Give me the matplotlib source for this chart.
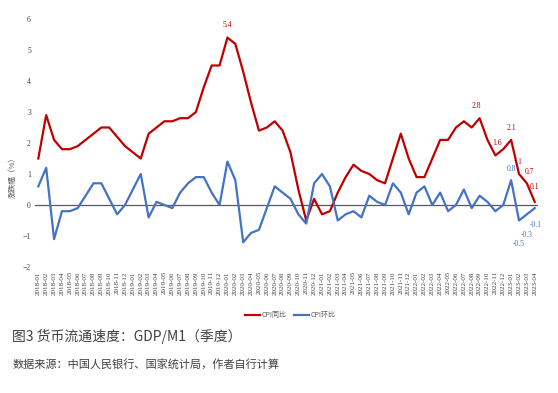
import numpy as np
import pandas as pd
import matplotlib
matplotlib.use("Agg")
import matplotlib.pyplot as plt

plt.rcParams['font.family'] = ['Noto Sans CJK SC', 'DejaVu Sans']

# months 2018-01 .. 2023-04
months = pd.period_range("2018-01", "2023-04", freq="M").strftime("%Y-%m").tolist()

cpi_yoy = [1.5, 2.9, 2.1, 1.8, 1.8, 1.9, 2.1, 2.3, 2.5, 2.5, 2.2, 1.9,
           1.7, 1.5, 2.3, 2.5, 2.7, 2.7, 2.8, 2.8, 3.0, 3.8, 4.5, 4.5,
           5.4, 5.2, 4.3, 3.3, 2.4, 2.5, 2.7, 2.4, 1.7, 0.5, -0.5, 0.2,
           -0.3, -0.2, 0.4, 0.9, 1.3, 1.1, 1.0, 0.8, 0.7, 1.5, 2.3, 1.5,
           0.9, 0.9, 1.5, 2.1, 2.1, 2.5, 2.7, 2.5, 2.8, 2.1, 1.6, 1.8,
           2.1, 1.0, 0.7, 0.1]
cpi_mom = [0.6, 1.2, -1.1, -0.2, -0.2, -0.1, 0.3, 0.7, 0.7, 0.2, -0.3, 0.0,
           0.5, 1.0, -0.4, 0.1, 0.0, -0.1, 0.4, 0.7, 0.9, 0.9, 0.4, 0.0,
           1.4, 0.8, -1.2, -0.9, -0.8, -0.1, 0.6, 0.4, 0.2, -0.3, -0.6, 0.7,
           1.0, 0.6, -0.5, -0.3, -0.2, -0.4, 0.3, 0.1, 0.0, 0.7, 0.4, -0.3,
           0.4, 0.6, 0.0, 0.4, -0.2, 0.0, 0.5, -0.1, 0.3, 0.1, -0.2, 0.0,
           0.8, -0.5, -0.3, -0.1]

# which points get value labels, and text offset (points)
yoy_labels = {"2020-01": (0, 6), "2022-09": (-2, 6), "2022-11": (1, 6),
              "2023-01": (0, 6), "2023-02": (0, 6), "2023-03": (2, 5),
              "2023-04": (0, 8)}
mom_labels = {"2023-01": (0, 5), "2023-02": (0, -14), "2023-03": (0, -12),
              "2023-04": (1, -9)}

red = "#C00000"
blue = "#4472C4"
serif = "Liberation Serif"

fig = plt.figure(figsize=(5.58, 3.93), dpi=100)
ax = fig.add_axes([0.063, 0.3206, 0.901, 0.6311])
x = np.arange(len(months))

ax.axhline(0, color="#595959", lw=0.9, zorder=1)
ax.plot(x, cpi_yoy, color=red, lw=1.6, label="CPI同比", zorder=3)
ax.plot(x, cpi_mom, color=blue, lw=1.6, label="CPI环比", zorder=3)

for m, (dx, dy) in yoy_labels.items():
    i = months.index(m)
    v = cpi_yoy[i]
    ax.annotate("%g" % v, (x[i], v), xytext=(dx, dy), textcoords="offset points",
                ha="center", va="bottom" if dy > 0 else "top",
                fontsize=5.5, color=red, family=serif)
for m, (dx, dy) in mom_labels.items():
    i = months.index(m)
    v = cpi_mom[i]
    ax.annotate("%g" % v, (x[i], v), xytext=(dx, dy), textcoords="offset points",
                ha="center", va="bottom" if dy > 0 else "top",
                fontsize=5.5, color=blue, family=serif)

ax.set_xlim(-0.4, len(months) - 0.6)
ax.set_ylim(-2, 6)
ax.set_yticks(range(-2, 7))
ax.set_xticks(x)
ax.set_xticklabels(months, rotation=90, fontsize=5, family=serif)
for lbl in ax.get_yticklabels():
    lbl.set_family(serif)
    lbl.set_fontsize(5.5)
ax.tick_params(length=0, pad=3, colors="#404040")
for s in ax.spines.values():
    s.set_visible(False)
ax.set_ylabel("涨跌幅（%）", fontsize=5.5, color="#595959")
ax.yaxis.set_label_coords(-0.036, 0.367)

ax.legend(loc="center left", bbox_to_anchor=(0.405, -0.195), ncol=2, frameon=False,
          fontsize=5, handlelength=2.2, handletextpad=0.2, columnspacing=1.0,
          labelcolor="#595959")

fig.text(0.022, 0.132, "图3 货币流通速度：GDP/M1（季度）", fontsize=10, color="#404040")
fig.text(0.022, 0.064, "数据来源：中国人民银行、国家统计局，作者自行计算", fontsize=8, color="#404040")

fig.savefig("out.png", dpi=100)
